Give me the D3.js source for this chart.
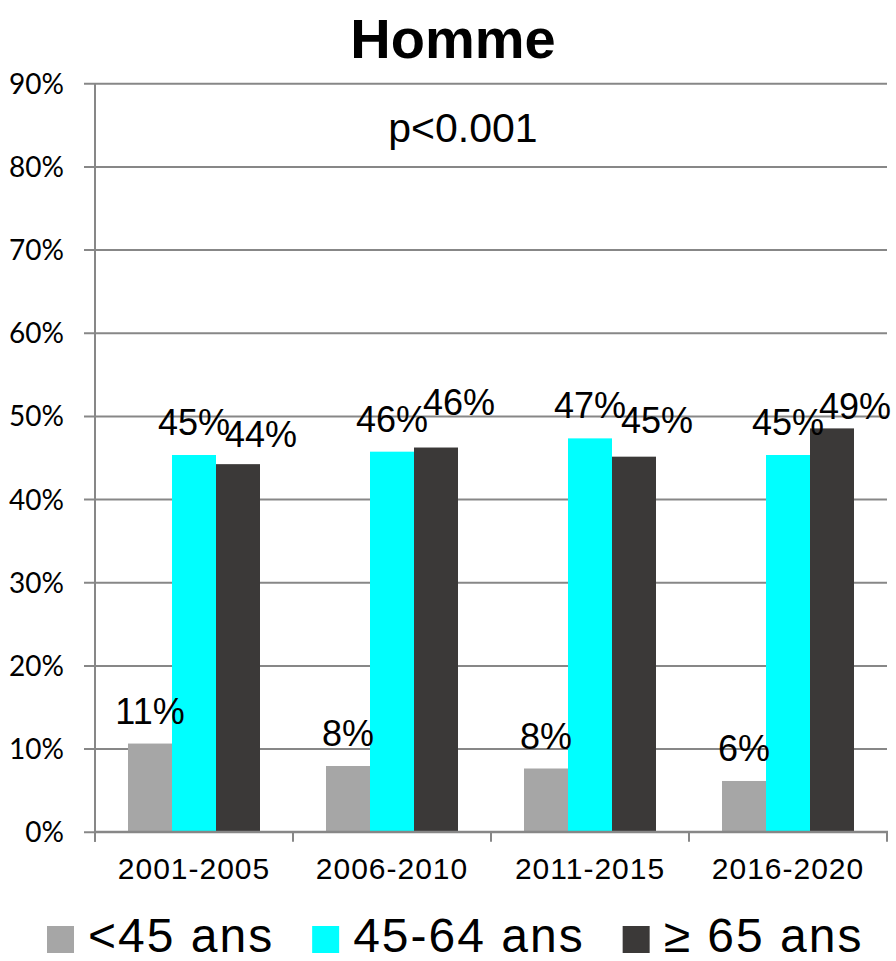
<!DOCTYPE html>
<html>
<head>
<meta charset="utf-8">
<script src="https://cdn.jsdelivr.net/npm/d3@7"></script>
<style>
  html, body { margin: 0; padding: 0; background: #fff; }
  svg { display: block; }
</style>
</head>
<body>
<svg id="chart" width="896" height="961"></svg>
<script>
const title = "Homme";
const annotation = "p<0.001";
const categories = ["2001-2005", "2006-2010", "2011-2015", "2016-2020"];
const seriesNames = ["<45 ans", "45-64 ans", "\u2265 65 ans"];
const under45 = [10.6, 7.9, 7.6, 6.1];
const from45to64 = [45.3, 45.7, 47.3, 45.3];
const over65 = [44.2, 46.2, 45.1, 48.5];
const labelsUnder45 = ["11%", "8%", "8%", "6%"];
const labels45to64 = ["45%", "46%", "47%", "45%"];
const labelsOver65 = ["44%", "46%", "45%", "49%"];
const yTicks = [0, 10, 20, 30, 40, 50, 60, 70, 80, 90];

const colors = ["#a6a6a6", "#00ffff", "#3b3938"];
const seriesValues = [under45, from45to64, over65];
const seriesLabels = [labelsUnder45, labels45to64, labelsOver65];

// label placement tweaks (style, not data)
const labelDx = [0, 0, 23];
const overLabelNudge = [3, -13, -4, 11];

const svg = d3.select("#chart");
const plotLeft = 95, plotRight = 887, plotTop = 83.3, plotBottom = 831.7;

const y = d3.scaleLinear().domain([0, 90]).range([plotBottom, plotTop]);
const x0 = d3.scaleBand().domain(categories).range([plotLeft, plotRight])
  .paddingInner(1/3).paddingOuter(1/6);
const x1 = d3.scaleBand().domain(d3.range(seriesNames.length)).range([0, x0.bandwidth()]);

const gridColor = "#878787";
const sans = "'Liberation Sans', Arial, sans-serif";

// gridlines with outside ticks
const yAxis = d3.axisLeft(y).tickValues(yTicks).tickSize(-(plotRight - plotLeft)).tickSizeOuter(0)
  .tickFormat(d => d + "%");
const gy = svg.append("g").attr("transform", `translate(${plotLeft},0)`).call(yAxis);
gy.select(".domain").remove();
gy.selectAll(".tick line").attr("x1", -11).attr("stroke", gridColor).attr("stroke-width", 2);
gy.selectAll(".tick text")
  .attr("x", -31).attr("dy", null).attr("y", 10)
  .attr("font-family", "Lato, 'Open Sans', sans-serif")
  .attr("font-size", 28).attr("fill", "#000").attr("text-anchor", "end");

// vertical axis line
svg.append("line").attr("x1", plotLeft).attr("x2", plotLeft).attr("y1", y(90)).attr("y2", plotBottom + 10)
  .attr("stroke", gridColor).attr("stroke-width", 2);

// bars
const groups = svg.append("g").selectAll("g").data(categories).join("g")
  .attr("transform", d => `translate(${x0(d)},0)`);
const cellData = (c, i) => seriesValues.map((vals, s) => ({ s, i, v: vals[i], lab: seriesLabels[s][i] }));
groups.selectAll("rect")
  .data(cellData)
  .join("rect")
  .attr("x", d => x1(d.s)).attr("width", x1.bandwidth())
  .attr("y", d => y(d.v)).attr("height", d => plotBottom - y(d.v))
  .attr("fill", d => colors[d.s]);

// x axis
const step = x0.step();
const xAxisG = svg.append("g");
xAxisG.append("line").attr("x1", plotLeft).attr("x2", plotRight + 1).attr("y1", plotBottom).attr("y2", plotBottom)
  .attr("stroke", gridColor).attr("stroke-width", 2);
const boundaries = d3.range(categories.length + 1).map(i => plotLeft + i * step);
xAxisG.selectAll("line.tk").data(boundaries).join("line").attr("class", "tk")
  .attr("x1", d => d).attr("x2", d => d).attr("y1", plotBottom).attr("y2", plotBottom + 10)
  .attr("stroke", gridColor).attr("stroke-width", 2);
xAxisG.selectAll("text").data(categories).join("text")
  .attr("x", d => x0(d) + x0.bandwidth() / 2).attr("y", 879)
  .attr("text-anchor", "middle").attr("font-family", sans)
  .attr("font-size", 30).attr("letter-spacing", 1).attr("fill", "#000").text(d => d);

// data labels
groups.selectAll("text.lab")
  .data(cellData)
  .join("text").attr("class", "lab")
  .attr("x", d => x1(d.s) + x1.bandwidth() / 2 + labelDx[d.s])
  .attr("y", d => y(d.v) - 20 + (d.s === 2 ? overLabelNudge[d.i] : 0))
  .attr("text-anchor", "middle").attr("font-family", sans)
  .attr("font-size", 36).attr("fill", "#000").text(d => d.lab);

// title
svg.append("text").attr("x", 453).attr("y", 58).attr("text-anchor", "middle")
  .attr("font-family", sans).attr("font-weight", "bold")
  .attr("font-size", 56).attr("fill", "#000").text(title);

// annotation
svg.append("text").attr("x", 463).attr("y", 142).attr("text-anchor", "middle")
  .attr("font-family", sans)
  .attr("font-size", 41).attr("fill", "#000").text(annotation);

// legend
const legend = svg.append("g");
let lx = 47;
seriesNames.forEach((name, i) => {
  legend.append("rect").attr("x", lx).attr("y", 926).attr("width", 27).attr("height", 27)
    .attr("fill", colors[i]);
  const t = legend.append("text").attr("x", lx + 41).attr("y", 952)
    .attr("font-family", sans).attr("font-size", 48).attr("letter-spacing", 2)
    .attr("fill", "#000").text(name);
  lx = lx + 41 + t.node().getComputedTextLength() + 38;
});
</script>
</body>
</html>
